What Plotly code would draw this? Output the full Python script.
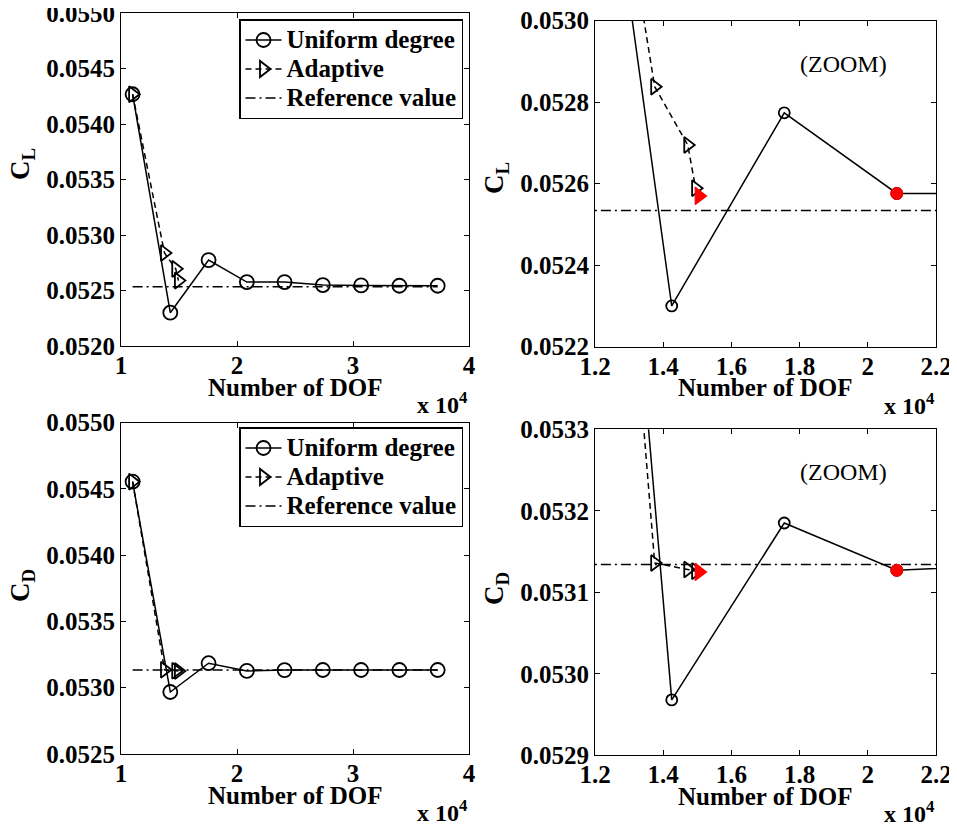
import plotly.graph_objects as go

# ---------------- data ----------------
# number of degrees of freedom (absolute)
dof_uniform = [11000, 14250, 17550, 20850, 24100, 27400, 30700, 34000, 37300]
cl_uniform = [0.054268, 0.052300, 0.052774, 0.052576, 0.052576, 0.052549, 0.052546, 0.052543, 0.052543]
cd_uniform = [0.054555, 0.052968, 0.053185, 0.053127, 0.053133, 0.053134, 0.053134, 0.053134, 0.053134]

dof_adaptive = [11000, 13750, 14720, 14950]
cl_adaptive = [0.054268, 0.052838, 0.052695, 0.052589]
cd_adaptive = [0.054555, 0.053136, 0.053128, 0.053126]

# highlighted (red) results shown in the zoom panels
dof_adaptive_final = [15050]
cl_adaptive_final = [0.052570]
cd_adaptive_final = [0.053125]
uniform_highlight_index = 3

cl_reference = 0.052534
cd_reference = 0.053134

x_ticks_full = [10000, 20000, 30000, 40000]
x_ticktext_full = ["1", "2", "3", "4"]
x_ticks_zoom = [12000, 14000, 16000, 18000, 20000, 22000]
x_ticktext_zoom = ["1.2", "1.4", "1.6", "1.8", "2", "2.2"]

legend_names = ["Uniform degree", "Adaptive", "Reference value"]

# ---------------- layout helpers ----------------
OFF = 8  # page body margin
W, H = 957 - OFF, 824 - OFF
FONT = "Liberation Serif"


def fx(p):
    return (p - OFF) / W


def fy(p):
    return 1 - (p - OFF) / H


panels = [
    dict(ax="", px_x=(121, 469), px_y=(13, 346), yr=(0.0520, 0.0550), dt=0.0005,
         zoom=False, coef="L", legend="legend", ytitle=164),
    dict(ax="2", px_x=(595, 936), px_y=(20.7, 346.7), yr=(0.0522, 0.0530), dt=0.0002,
         zoom=True, coef="L", legend=None, ytitle=178),
    dict(ax="3", px_x=(121, 469), px_y=(422.7, 754), yr=(0.0525, 0.0550), dt=0.0005,
         zoom=False, coef="D", legend="legend2", ytitle=586),
    dict(ax="4", px_x=(595, 936), px_y=(429.3, 755.3), yr=(0.0529, 0.0533), dt=0.0001,
         zoom=True, coef="D", legend=None, ytitle=589),
]

fig = go.Figure()
annotations = []


def legend_label(s):
    return '<span style="font-size:25px">' + s + "</span>"


for p in panels:
    xa = "x" + p["ax"]
    ya = "y" + p["ax"]
    zoom = p["zoom"]
    if p["coef"] == "L":
        yu, ya_vals, ref, fin = cl_uniform, cl_adaptive, cl_reference, cl_adaptive_final
    else:
        yu, ya_vals, ref, fin = cd_uniform, cd_adaptive, cd_reference, cd_adaptive_final
    show = p["legend"] is not None
    leg = p["legend"] if show else "legend"
    csize = 11 if zoom else 14
    tsize = 14

    fig.add_trace(go.Scatter(
        x=dof_uniform, y=yu, xaxis=xa, yaxis=ya, mode="lines+markers",
        name=legend_label(legend_names[0]), showlegend=show, legend=leg,
        line=dict(color="black", width=1.5),
        marker=dict(symbol="circle-open", size=csize, color="black", line=dict(width=1.8)),
    ))
    fig.add_trace(go.Scatter(
        x=dof_adaptive, y=ya_vals, xaxis=xa, yaxis=ya, mode="lines+markers",
        name=legend_label(legend_names[1]), showlegend=show, legend=leg,
        line=dict(color="black", width=1.5, dash="6px,4px"),
        marker=dict(symbol="triangle-right-open", size=tsize, color="black", line=dict(width=1.8)),
    ))
    fig.add_trace(go.Scatter(
        x=[dof_uniform[0], dof_uniform[-1]], y=[ref, ref], xaxis=xa, yaxis=ya, mode="lines",
        name=legend_label(legend_names[2]), showlegend=show, legend=leg,
        line=dict(color="black", width=1.5, dash="10px,4px,2px,4px"),
    ))
    if zoom:
        fig.add_trace(go.Scatter(
            x=[dof_uniform[uniform_highlight_index]], y=[yu[uniform_highlight_index]],
            xaxis=xa, yaxis=ya, mode="markers", showlegend=False,
            marker=dict(symbol="circle", size=12, color="red", line=dict(width=1, color="red")),
        ))
        fig.add_trace(go.Scatter(
            x=dof_adaptive_final, y=fin, xaxis=xa, yaxis=ya, mode="markers", showlegend=False,
            marker=dict(symbol="triangle-right", size=15, color="red", line=dict(width=1.2, color="red")),
        ))

    xkey = "xaxis" + p["ax"]
    ykey = "yaxis" + p["ax"]
    axis_common = dict(
        showline=True, linecolor="black", linewidth=1, mirror="ticks",
        ticks="inside", ticklen=5, tickwidth=1, tickcolor="black",
        showgrid=False, zeroline=False, automargin=False,
        ticklabeloverflow="allow",
        tickfont=dict(family=FONT, size=25, color="black", weight="bold"),
    )
    fig.update_layout(**{
        xkey: dict(
            domain=[fx(p["px_x"][0]), fx(p["px_x"][1])], anchor=ya,
            range=[12000, 22000] if zoom else [10000, 40000],
            tickmode="array",
            tickvals=x_ticks_zoom if zoom else x_ticks_full,
            ticktext=x_ticktext_zoom if zoom else x_ticktext_full,
            ticklabelstandoff=-3,
            **axis_common,
        ),
        ykey: dict(
            domain=[fy(p["px_y"][1]), fy(p["px_y"][0])], anchor=xa,
            range=list(p["yr"]), tick0=p["yr"][0], dtick=p["dt"], tickformat=".4f",
            **axis_common,
        ),
    })

    x0, x1 = p["px_x"]
    y0, y1 = p["px_y"]
    # x-axis title
    annotations.append(dict(
        text="Number of DOF", xref="paper", yref="paper",
        x=fx((x0 + x1) / 2), y=fy(y1 + 41), xanchor="center", yanchor="middle",
        showarrow=False, font=dict(family=FONT, size=25, color="black", weight="bold"),
    ))
    # exponent
    annotations.append(dict(
        text="x 10<sup>4</sup>", xref="paper", yref="paper",
        x=fx(x1 + 1), y=fy(y1 + 57), xanchor="right", yanchor="middle",
        showarrow=False, font=dict(family=FONT, size=24, color="black", weight="bold"),
    ))
    # y-axis title
    annotations.append(dict(
        text="C<sub>" + p["coef"] + "</sub>", xref="paper", yref="paper",
        x=fx(x0 - 99), y=fy(p["ytitle"]), xanchor="center", yanchor="middle",
        textangle=-90, showarrow=False,
        font=dict(family=FONT, size=27, color="black", weight="bold"),
    ))
    if zoom:
        annotations.append(dict(
            text="(ZOOM)", xref="paper", yref="paper",
            x=fx(843), y=fy(y0 + 43), xanchor="center", yanchor="middle",
            showarrow=False, font=dict(family=FONT, size=24, color="black"),
        ))

legend_style = dict(
    xanchor="right", yanchor="top", bgcolor="white", bordercolor="black", borderwidth=1.5,
    font=dict(family=FONT, size=20, color="black", weight="bold"),
    itemwidth=36, tracegroupgap=0,
)

fig.update_layout(
    template="none",
    width=W, height=H,
    margin=dict(l=0, r=0, t=0, b=0, autoexpand=False),
    paper_bgcolor="white", plot_bgcolor="white",
    showlegend=True,
    legend=dict(x=fx(463), y=fy(19), **legend_style),
    legend2=dict(x=fx(463), y=fy(427), **legend_style),
    annotations=annotations,
)

fig.write_html("out.html")
